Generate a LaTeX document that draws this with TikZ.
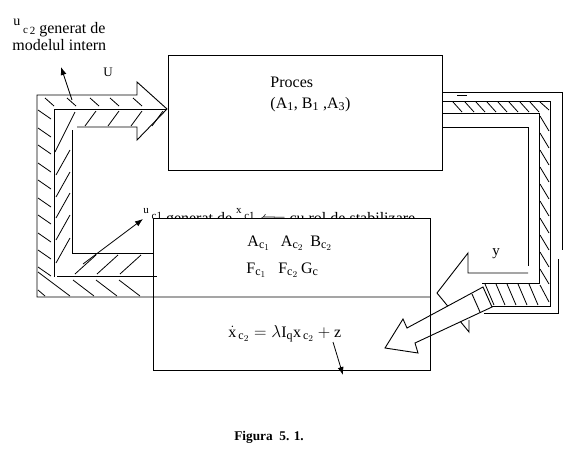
\documentclass[tikz,border=0pt]{standalone}
\usepackage{fontspec}
\setmainfont{Liberation Serif}
\usepackage{amsmath}
\usetikzlibrary{arrows.meta}
\DeclareMathSizes{16}{16}{12}{9}
\newcommand{\smtxt}[1]{{\fontsize{11}{13}\selectfont #1}}

\begin{document}
\begin{tikzpicture}[x=1pt, y=-1pt, line width=0.9pt, >={Latex[length=8pt, width=6pt]},
  every node/.style={font=\fontsize{16}{19}\selectfont, inner sep=0pt},
  bx/.style={draw, fill=white, anchor=north west},
  hatch/.style={line width=0.8pt}]
\useasboundingbox (0,0) rectangle (567,461);

\node[anchor=base west] (u1lbl) at (143,223) {\raisebox{10pt}{\smtxt{u}}\,\raisebox{4pt}{\smtxt{c1}} generat de \raisebox{10pt}{\smtxt{x}}\,\raisebox{4pt}{\smtxt{c1}} $\Longleftarrow$ cu rol de stabilizare};

\node[bx, minimum width=274pt, minimum height=115pt] (proces) at (168,55) {};
\node[bx, minimum width=277pt, minimum height=152pt] (ctrl) at (153,218) {};

\node[anchor=base west] (proc1) at (270,87) {Proces};
\node[anchor=base west] (proc2) at (270,108) {(A\textsubscript{1}, B\textsubscript{1} ,A\textsubscript{3})};
\node[anchor=base west] (mat1) at (247,246) {$\mathrm{A}_{\mathrm{c}_1}$\hspace{11pt}$\mathrm{A}_{\mathrm{c}_2}$\hspace{7pt}$\mathrm{B}_{\mathrm{c}_2}$};
\node[anchor=base west] (mat2) at (246,273) {$\mathrm{F}_{\mathrm{c}_1}$\hspace{12pt}$\mathrm{F}_{\mathrm{c}_2}$\hspace{3pt}$\mathrm{G}_{\mathrm{c}}$};
\node[anchor=base west] (eq) at (228,337) {$\dot{\mathrm{x}}_{\,\mathrm{c}_2} = \lambda\mathrm{I}_{\mathrm{q}}\mathrm{x}_{\,\mathrm{c}_2} + \mathrm{z}$};

\node[anchor=base west] (u2lbl) at (13,33) {\raisebox{8pt}{\fontsize{14}{16}\selectfont u}\,\smtxt{c\,\raisebox{-1.5pt}{2}} generat de};
\node[anchor=base west] (u2lbl2) at (12,50) {modelul intern};
\node[font=\fontsize{13}{15}\selectfont] (ulbl) at (108,72) {U};
\node[font=\fontsize{15}{17}\selectfont] (ylbl) at (496,254) {y};
\node[font=\fontsize{13.3}{16}\selectfont\bfseries] (fig) at (269,437) {Figura~~5. 1.};

% left bundle
\draw (77,127) -- (137,127) -- (137,140) -- (167,109) -- (137,82) -- (137,95) -- (37,95) -- (37,297) -- (430,297);
\draw (167,109) -- (54,109) -- (54,277);
\draw (57,276) -- (157,276);
\draw (72,130) -- (72,253) -- (153,253);
\foreach \x in {45,67,90,110,133} \draw[hatch] (\x,98) -- (\x+9,106);
\foreach \x in {85,108,131,152} \draw[hatch] (\x,126) -- (\x+11,111);
\draw[hatch] (55,152) -- (75,112);
\foreach \y in {110,128,145,163,180,198,215,233,250,267} \draw[hatch] (38,\y) -- (51,\y+9);
\foreach \y in {175,197,218,240,263} \draw[hatch] (56,\y) -- (70,\y-25);
\draw[hatch] (38,272) -- (70,296);
\draw[hatch] (38,290) -- (45,296);
\foreach \x in {73,96,119} \draw[hatch] (\x,280) -- (\x+21,296);
\foreach \x in {75,97,120} \draw[hatch] (\x,274) -- (\x+21,255);

% right bundle
\draw (442,92) -- (562,92) -- (562,250);
\draw (558,259) -- (558,313) -- (484,313);
\draw (442,101) -- (550,101) -- (550,306) -- (492,306);
\draw (442,113) -- (539,113) -- (539,283) -- (482,283);
\draw (442,127) -- (528,127) -- (528,266);
\draw (457,95) -- (467,95);
\foreach \x in {453,465,476,487,498,509,520,530} \draw[hatch] (\x,102) -- (\x+9,112);
\draw[hatch] (540,102) -- (549,110);
\foreach \y in {116,133,150,167,184,201,218,235,252,269} \draw[hatch] (540,\y) -- (549,\y+15);
\draw[hatch] (540,285) -- (549,302);
\foreach \x in {485,496,507,518,529} \draw[hatch] (\x,284) -- (\x+9,305);
\draw (528,273) -- (468,273) -- (468,253) -- (437,293) -- (469,332) -- (469,320);
\draw[fill=white] (483,287) -- (407,328) -- (403,319) -- (385,348) -- (418,353) -- (415,343) -- (492,307) -- cycle;
\draw (472,294) -- (480,312);
\draw (ctrl.north east) -- (ctrl.south east);

\coordinate (u2s) at (72,100);
\coordinate (u2e) at (61,67);
\coordinate (u1s) at (83,264);
\coordinate (u1e) at (143,219);
\coordinate (zs) at (333,342);
\coordinate (ze) at (343,375);
\draw[->, line width=0.8pt] (u2s) -- (u2e);
\draw[->, line width=0.8pt] (u1s) -- (u1e);
\draw[->, line width=0.8pt] (zs) -- (ze);
\end{tikzpicture}
\end{document}
